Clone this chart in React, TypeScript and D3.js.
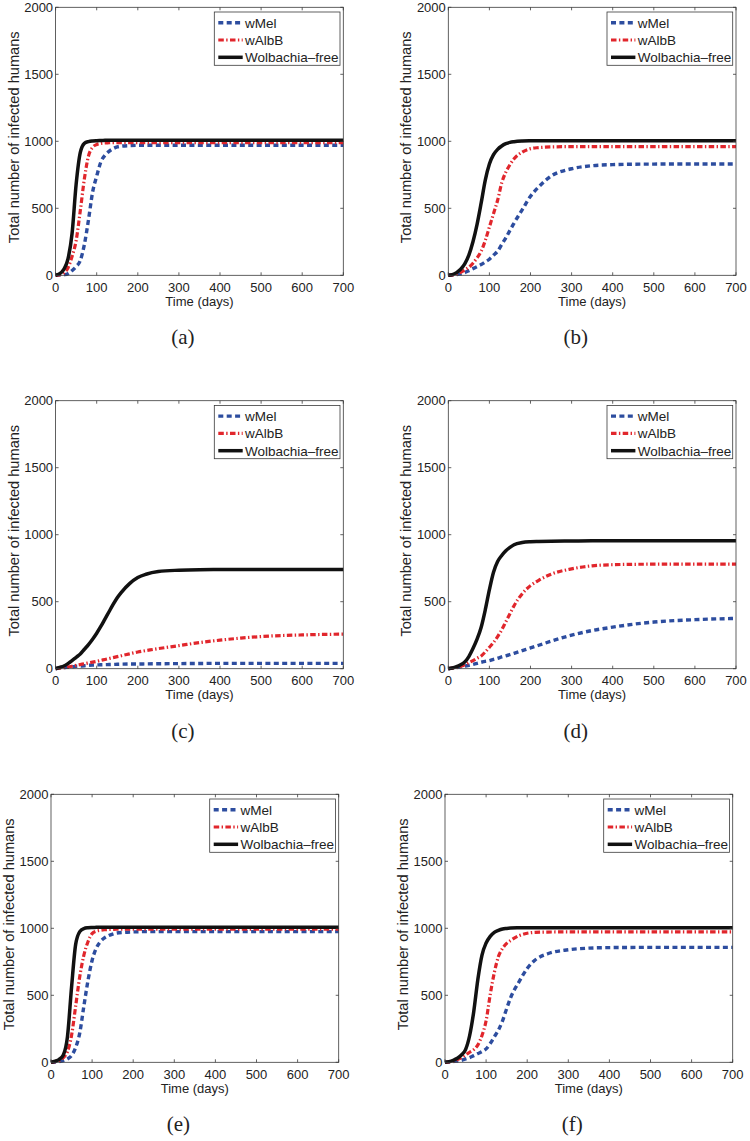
import React from 'react'
import * as d3 from 'd3'

// sample days shared by every series
const DAYS = [0, 10, 20, 30, 40, 50, 60, 70, 80, 90, 100, 110, 120, 130, 140, 150, 160, 180, 200, 220, 250, 300, 350, 400, 450, 500, 600, 700]

// (a)
const A_MEL = [0, 1, 4, 12, 35, 65, 110, 230, 413, 620, 740, 845, 895, 925, 945, 958, 964, 968, 970, 970, 970, 970, 970, 970, 970, 970, 970, 970]
const A_ALB = [0, 5, 18, 55, 140, 260, 480, 720, 890, 955, 976, 984, 988, 989, 990, 990, 990, 990, 990, 990, 990, 990, 990, 990, 990, 990, 990, 990]
const A_FREE = [0, 12, 45, 120, 310, 680, 915, 985, 998, 1003, 1005, 1006, 1007, 1008, 1008, 1008, 1008, 1008, 1008, 1008, 1008, 1008, 1008, 1008, 1008, 1008, 1008, 1008]
// (b)
const B_MEL = [0, 2, 5, 10, 20, 35, 50, 65, 80, 100, 120, 150, 180, 230, 280, 335, 390, 490, 590, 660, 740, 795, 818, 826, 829, 830, 831, 831]
const B_ALB = [0, 3, 10, 22, 40, 60, 90, 130, 180, 260, 360, 460, 560, 690, 770, 825, 870, 920, 945, 953, 958, 960, 960, 960, 960, 960, 960, 960]
const B_FREE = [0, 5, 20, 45, 85, 150, 250, 380, 540, 710, 830, 900, 940, 965, 982, 992, 997, 1002, 1004, 1005, 1005, 1005, 1005, 1005, 1005, 1005, 1005, 1005]
// (c)
const C_MEL = [0, 4, 8, 11, 14, 18, 20, 22, 25, 27, 28, 29, 30, 31, 32, 33, 34, 35, 35, 36, 37, 38, 39, 40, 40, 40, 40, 40]
const C_ALB = [0, 4, 8, 13, 18, 25, 31, 37, 43, 49, 55, 62, 69, 76, 83, 90, 97, 111, 125, 135, 150, 172, 195, 213, 228, 240, 252, 258]
const C_FREE = [0, 10, 20, 38, 60, 85, 110, 145, 180, 220, 265, 315, 370, 425, 480, 530, 570, 635, 680, 705, 725, 735, 739, 740, 741, 741, 741, 741]
// (d)
const D_MEL = [0, 4, 8, 14, 20, 25, 32, 40, 48, 55, 60, 70, 78, 88, 96, 105, 115, 135, 155, 175, 205, 250, 285, 310, 332, 348, 366, 375]
const D_ALB = [0, 4, 10, 18, 30, 45, 60, 78, 95, 125, 160, 195, 240, 290, 350, 410, 470, 560, 620, 660, 705, 745, 768, 776, 779, 780, 781, 781]
const D_FREE = [0, 5, 15, 30, 50, 90, 150, 220, 310, 440, 590, 720, 800, 845, 880, 905, 925, 942, 948, 950, 952, 953, 954, 954, 954, 954, 954, 954]
// (e)
const E_MEL = [0, 2, 5, 12, 25, 50, 110, 220, 420, 610, 760, 850, 900, 928, 945, 957, 965, 970, 973, 975, 975, 975, 975, 975, 975, 975, 975, 975]
const E_ALB = [0, 5, 12, 35, 80, 200, 420, 640, 800, 900, 960, 978, 985, 989, 991, 992, 993, 993, 993, 993, 993, 993, 993, 993, 993, 993, 993, 993]
const E_FREE = [0, 8, 22, 55, 190, 560, 880, 975, 998, 1004, 1006, 1007, 1008, 1008, 1008, 1008, 1008, 1008, 1008, 1008, 1008, 1008, 1008, 1008, 1008, 1008, 1008, 1008]
// (f)
const F_MEL = [0, 2, 5, 10, 15, 25, 35, 50, 65, 80, 100, 140, 190, 241, 310, 400, 485, 600, 700, 765, 810, 840, 852, 856, 857, 858, 858, 858]
const F_ALB = [0, 3, 8, 20, 35, 55, 75, 95, 130, 200, 310, 505, 670, 789, 850, 888, 910, 945, 963, 970, 972, 973, 973, 973, 973, 973, 973, 973]
const F_FREE = [0, 5, 15, 30, 55, 95, 200, 380, 620, 800, 890, 940, 970, 985, 995, 999, 1002, 1004, 1005, 1005, 1005, 1005, 1005, 1005, 1005, 1005, 1005, 1005]

const SERIES_NAMES = ['wMel', 'wAlbB', 'Wolbachia\u2013free']
const X_TICKS = [0, 100, 200, 300, 400, 500, 600, 700]
const Y_TICKS = [0, 500, 1000, 1500, 2000]

// panel layout: plot box origin
const panels = [
  { label: '(a)', left: 55.6, top: 7.3, series: [A_MEL, A_ALB, A_FREE] },
  { label: '(b)', left: 448.3, top: 7.3, series: [B_MEL, B_ALB, B_FREE] },
  { label: '(c)', left: 55.6, top: 400.7, series: [C_MEL, C_ALB, C_FREE] },
  { label: '(d)', left: 448.3, top: 400.7, series: [D_MEL, D_ALB, D_FREE] },
  { label: '(e)', left: 51, top: 794.3, series: [E_MEL, E_ALB, E_FREE] },
  { label: '(f)', left: 445, top: 794.3, series: [F_MEL, F_ALB, F_FREE] },
]

const W = 287.7
const H = 268
const styles = [
  { stroke: '#2d4d9f', width: 3.4, dash: '5,3.4' },
  { stroke: '#e1262c', width: 3.2, dash: '5.5,2.4,1.4,2.4' },
  { stroke: '#111111', width: 3.5, dash: null },
]
const FONT = '"Liberation Sans", Arial, sans-serif'
const AXIS = '#3a3a3a'

const x = d3.scaleLinear().domain([0, 700]).range([0, W])
const y = d3.scaleLinear().domain([0, 2000]).range([H, 0])
const line = d3.line<number>()
  .x((d, i) => x(DAYS[i]))
  .y(d => y(d))
  .curve(d3.curveMonotoneX)

const Panel = ({ p }: { p: typeof panels[0] }) => {
  const lx = W - 3.3 - 125.7
  return (
    <g transform={`translate(${p.left},${p.top})`}>
      <rect x={0} y={0} width={W} height={H} fill="white" />
      {p.series.map((s, i) => (
        <path key={i} d={line(s) || ''} fill="none" stroke={styles[i].stroke}
          strokeWidth={styles[i].width} strokeDasharray={styles[i].dash || undefined} />
      ))}
      <rect x={0} y={0} width={W} height={H} fill="none" stroke={AXIS} strokeWidth={0.8} />
      {X_TICKS.map(t => (
        <g key={'x' + t}>
          <line x1={x(t)} x2={x(t)} y1={H} y2={H - 3} stroke={AXIS} strokeWidth={0.8} />
          <line x1={x(t)} x2={x(t)} y1={0} y2={3} stroke={AXIS} strokeWidth={0.8} />
          <text x={x(t)} y={H + 16.5} textAnchor="middle" fontSize={13} fontFamily={FONT} fill="#222">{t}</text>
        </g>
      ))}
      {Y_TICKS.map(t => (
        <g key={'y' + t}>
          <line x1={0} x2={3} y1={y(t)} y2={y(t)} stroke={AXIS} strokeWidth={0.8} />
          <line x1={W} x2={W - 3} y1={y(t)} y2={y(t)} stroke={AXIS} strokeWidth={0.8} />
          <text x={-2.5} y={y(t) + 4.6} textAnchor="end" fontSize={13} fontFamily={FONT} fill="#222">{t}</text>
        </g>
      ))}
      <text x={W / 2} y={H + 30.5} textAnchor="middle" fontSize={13} fontFamily={FONT} fill="#222">Time (days)</text>
      <text transform={`translate(${-37},${H / 2 - 4}) rotate(-90)`} textAnchor="middle" fontSize={14.6} fontFamily={FONT} fill="#222">
        Total number of infected humans
      </text>
      <g transform={`translate(${lx},4.7)`}>
        <rect x={0} y={0} width={125.7} height={53.3} fill="white" stroke={AXIS} strokeWidth={0.8} />
        {SERIES_NAMES.map((n, i) => (
          <g key={n} transform={`translate(0,${10.7 + i * 17.3})`}>
            <line x1={4} x2={28.4} y1={0} y2={0} stroke={styles[i].stroke} strokeWidth={styles[i].width}
              strokeDasharray={styles[i].dash || undefined} />
            <text x={30.7} y={4.8} fontSize={13.5} fontFamily={FONT} fill="#222">{n}</text>
          </g>
        ))}
      </g>
      <text x={W / 2 - 16.5} y={H + 69} textAnchor="middle" fontSize={21} fontFamily='"Liberation Serif", "DejaVu Serif", serif' fill="#222">
        {p.label}
      </text>
    </g>
  )
}

export default function App() {
  return (
    <svg width={750} height={1141} style={{ position: 'absolute', left: 0, top: 0, background: 'white' }}>
      <rect width={750} height={1141} fill="white" />
      {panels.map(p => <Panel key={p.label} p={p} />)}
    </svg>
  )
}
